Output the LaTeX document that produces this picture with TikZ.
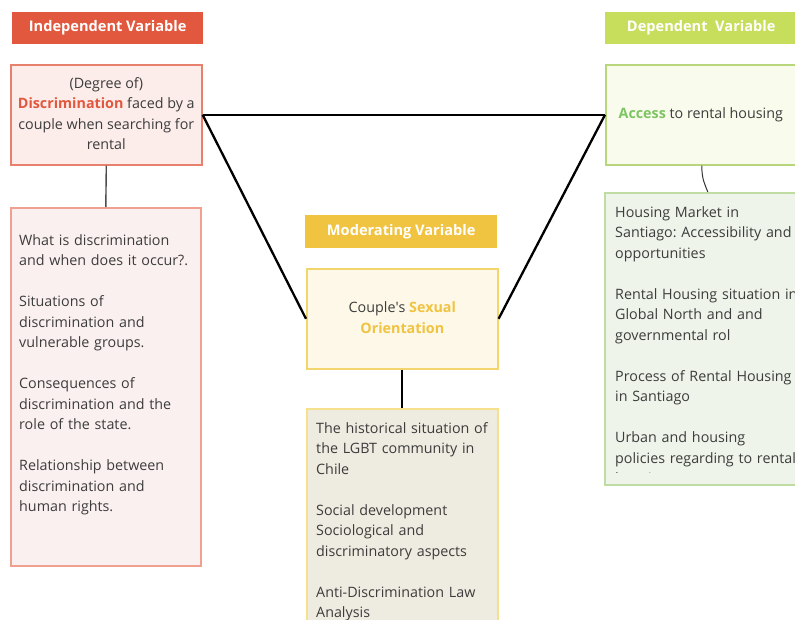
\documentclass[tikz,border=0pt]{standalone}
\usepackage{fontspec}
\setmainfont{Open Sans}
\frenchspacing
\definecolor{txt}{HTML}{3C3C3C}
\definecolor{indepC}{HTML}{E2583E}
\definecolor{iB}{HTML}{E8806E}
\definecolor{iF}{HTML}{FCEDEA}
\definecolor{lB}{HTML}{F0A090}
\definecolor{lF}{HTML}{FAF0EF}
\definecolor{depC}{HTML}{C6DE5C}
\definecolor{dB}{HTML}{B8D77C}
\definecolor{dF}{HTML}{F9FCEC}
\definecolor{accC}{HTML}{7DC463}
\definecolor{rB}{HTML}{BFDDA3}
\definecolor{rF}{HTML}{EEF4EA}
\definecolor{modC}{HTML}{F0C340}
\definecolor{mB}{HTML}{F3D56E}
\definecolor{mF}{HTML}{FDF8E8}
\definecolor{mlB}{HTML}{F5E08E}
\definecolor{mlF}{HTML}{EEEBE0}
\begin{document}
\begin{tikzpicture}[x=1pt,y=-1pt,
  font=\fontsize{14.3}{20.5}\selectfont,
  hdr/.style={anchor=north west, inner sep=0, text=white, font=\fontsize{14.6}{17}\selectfont\bfseries},
  boxnode/.style={anchor=north west, inner sep=0, line width=1.6pt},
  listtext/.style={anchor=north west, inner sep=0, text width=260, align=left, text=txt},
  tri/.style={line width=2.3pt, black},
]
\clip (0,0) rectangle (795,620);
\fill[white] (0,0) rectangle (795,620);

% Independent
\node[hdr, fill=indepC, minimum width=191, minimum height=32] (ih) at (12,12) {Independent Variable};
\node[boxnode, draw=iB, fill=iF, minimum width=191, minimum height=100] (ib) at (10,64) {};
\node[align=center, text=txt, inner sep=0] (ibt) at ([shift={(0,-1)}]ib.center) {(Degree of)\\ {\bfseries\color{indepC}Discrimination} faced by a\\ couple when searching for\\ rental};
\node[boxnode, draw=lB, fill=lF, minimum width=190, minimum height=358] (lb) at (10,207) {};
\node[listtext] (lbt) at ([shift={(9,27)}]lb.north west) {What is discrimination\\ and when does it occur?.\\[20.5pt] Situations of\\ discrimination and\\ vulnerable groups.\\[20.5pt] Consequences of\\ discrimination and the\\ role of the state.\\[20.5pt] Relationship between\\ discrimination and\\ human rights.};
\draw[line width=1.4pt, black!70] (ib.south) -- (lb.north);

% Dependent
\node[hdr, fill=depC, minimum width=192, minimum height=32] (dh) at (605,12) {Dependent~~Variable};
\node[boxnode, draw=dB, fill=dF, minimum width=192, minimum height=100] (db) at (605,64) {};
\node[text=txt, inner sep=0] (dbt) at ([shift={(-1,0)}]db.center) {{\bfseries\color{accC}Access} to rental housing};
\node[boxnode, draw=rB, fill=rF, minimum width=194, minimum height=292] (rb) at (604,192) {};
\begin{scope}
\clip (606,194) rectangle (800,472);
\node[listtext] (rbt) at ([shift={(11,14)}]rb.north west) {Housing Market in\\ Santiago: Accessibility and\\ opportunities\\[20.5pt] Rental Housing situation in\\ Global North and and\\ governmental rol\\[20.5pt] Process of Rental Housing\\ in Santiago\\[20.5pt] Urban and housing\\ policies regarding to rental\\ housing};
\end{scope}
\draw[line width=1pt, black!80] (db.south) .. controls +(0,14) and +(-3,-8) .. ([shift={(6,0)}]rb.north);

% Moderating
\node[hdr, fill=modC, minimum width=192, minimum height=33] (mh) at (305,215) {Moderating Variable};
\node[boxnode, draw=mB, fill=mF, minimum width=191, minimum height=100] (mb) at (306,268) {};
\node[align=center, text=txt, inner sep=0] (mbt) at ([shift={(0,-1)}]mb.center) {Couple\textquotesingle s {\bfseries\color{modC}Sexual}\\ {\bfseries\color{modC}Orientation}};
\node[boxnode, draw=mlB, fill=mlF, minimum width=191, minimum height=240] (mlb) at (306,408) {};
\node[listtext] (mlbt) at ([shift={(10,14)}]mlb.north west) {The historical situation of\\ the LGBT community in\\ Chile\\[20.5pt] Social development\\ Sociological and\\ discriminatory aspects\\[20.5pt] Anti-Discrimination Law\\ Analysis};
\draw[line width=2pt, black] (mb.south) -- (mlb.north);

% Triangle
\draw[tri] (ib.east) -- (db.west);
\draw[tri] (ib.east) -- (mb.west);
\draw[tri] (mb.east) -- (db.west);
\end{tikzpicture}
\end{document}
